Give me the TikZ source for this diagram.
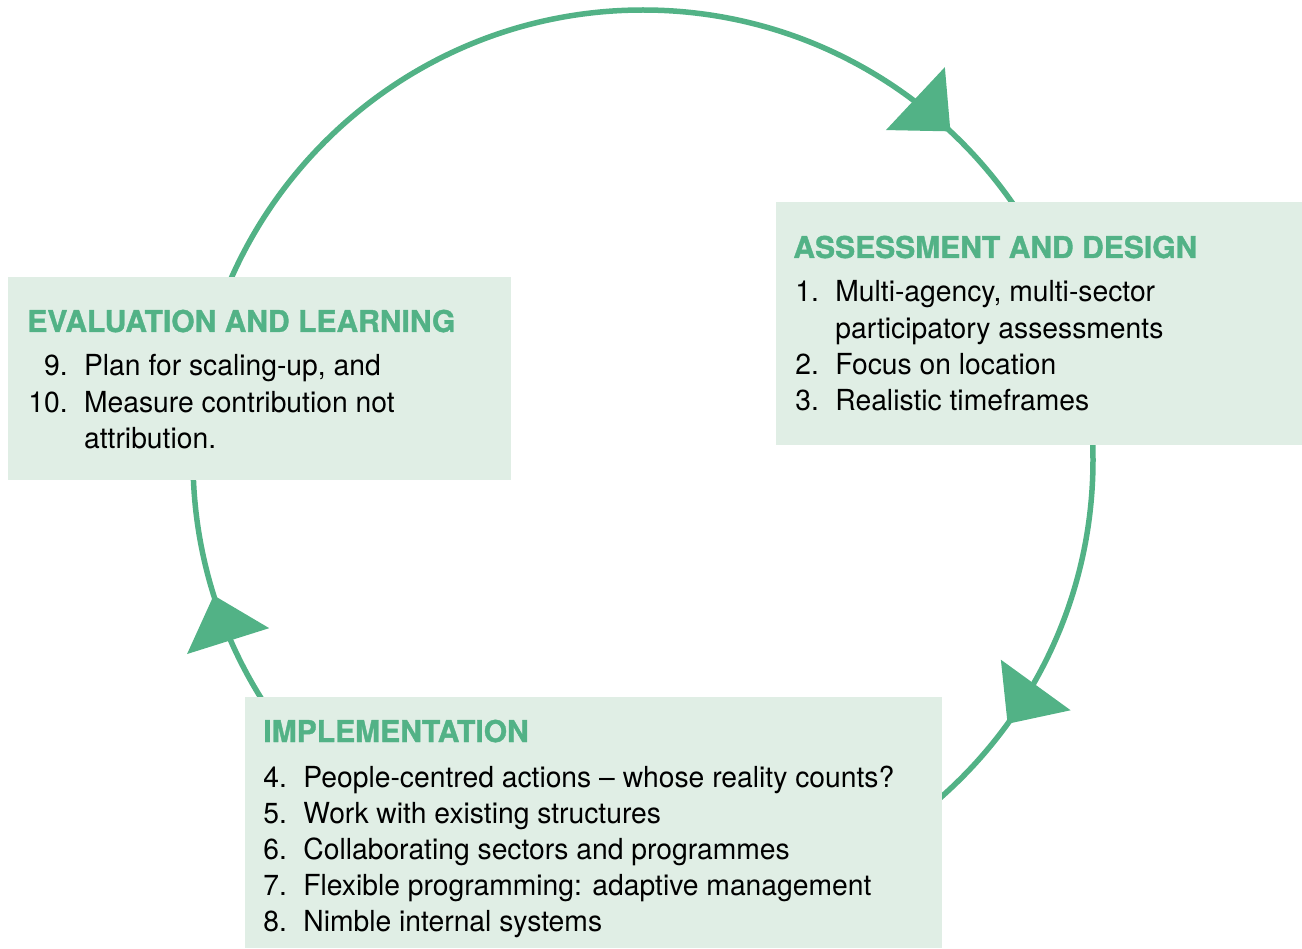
\documentclass[tikz,border=0pt]{standalone}
\usepackage{fontspec}
\setmainfont{TeX Gyre Heros}[FakeStretch=0.975]
\newfontfamily\phasefont{TeX Gyre Heros}[BoldFeatures={FakeBold=1.2}]
\usetikzlibrary{arrows.meta}
\usetikzlibrary{decorations.markings}

\definecolor{cyclegreen}{RGB}{82,178,134}
\definecolor{panelfill}{RGB}{224,238,229}

\begin{document}
\begin{tikzpicture}[x=0.02cm, y=0.02cm,
  cycleline/.style={cyclegreen, line width=0.11cm},
  cyclearrows/.style={decoration={markings,
      mark=at position 0.1197 with {\arrow{Triangle[length=0.96cm, width=1.7cm]}},
      mark=at position 0.3497 with {\arrow{Triangle[length=0.96cm, width=1.7cm]}},
      mark=at position 0.7014 with {\arrow{Triangle[length=0.96cm, width=1.7cm]}}},
    postaction={decorate}},
  panel/.style={fill=panelfill, anchor=north west, inner sep=0pt},
  heading/.style={anchor=base west, inner sep=0pt, text=cyclegreen,
    font=\phasefont\fontsize{17.1}{20.5}\selectfont\bfseries},
  items/.style={anchor=base west, inner sep=0pt,
    font=\fontsize{16.5}{20.5}\selectfont}]

\useasboundingbox (0,0) rectangle (1302,948);

\coordinate (C) at (643,488);
\coordinate (Ctop) at (643,938);

\draw[cycleline, cyclearrows] (Ctop) arc[start angle=90, end angle=-270, radius=450];

\node[panel, minimum width=10.06cm, minimum height=4.06cm] (evalbox) at (8,671) {};
\node[panel, minimum width=10.52cm, minimum height=4.86cm] (assessbox) at (776,746) {};
\node[panel, minimum width=13.94cm, minimum height=5.02cm] (implbox) at (245,251) {};

\node[heading] (evalhead) at (27,616) {EVALUATION AND LEARNING};
\node[items] (evallist) at (28,572) {\begin{tabular}[t]{@{}r@{\hspace{0.33cm}}l@{}}
  9. & Plan for scaling-up, and\\
  10. & Measure contribution not\\
   & attribution.
\end{tabular}};

\node[heading] (assesshead) at (793,690) {ASSESSMENT AND DESIGN};
\node[items] (assesslist) at (795,646) {\begin{tabular}[t]{@{}r@{\hspace{0.33cm}}l@{}}
  1. & Multi-agency, multi-sector\\
   & participatory assessments\\
  2. & Focus on location\\
  3. & Realistic timeframes
\end{tabular}};

\node[heading] (implhead) at (263,206) {IMPLEMENTATION};
\node[items] (impllist) at (263,161) {\begin{tabular}[t]{@{}r@{\hspace{0.33cm}}l@{}}
  4. & People-centred actions \textendash{} whose reality counts?\\
  5. & Work with existing structures\\
  6. & Collaborating sectors and programmes\\
  7. & Flexible programming: adaptive management\\
  8. & Nimble internal systems
\end{tabular}};

\end{tikzpicture}
\end{document}
